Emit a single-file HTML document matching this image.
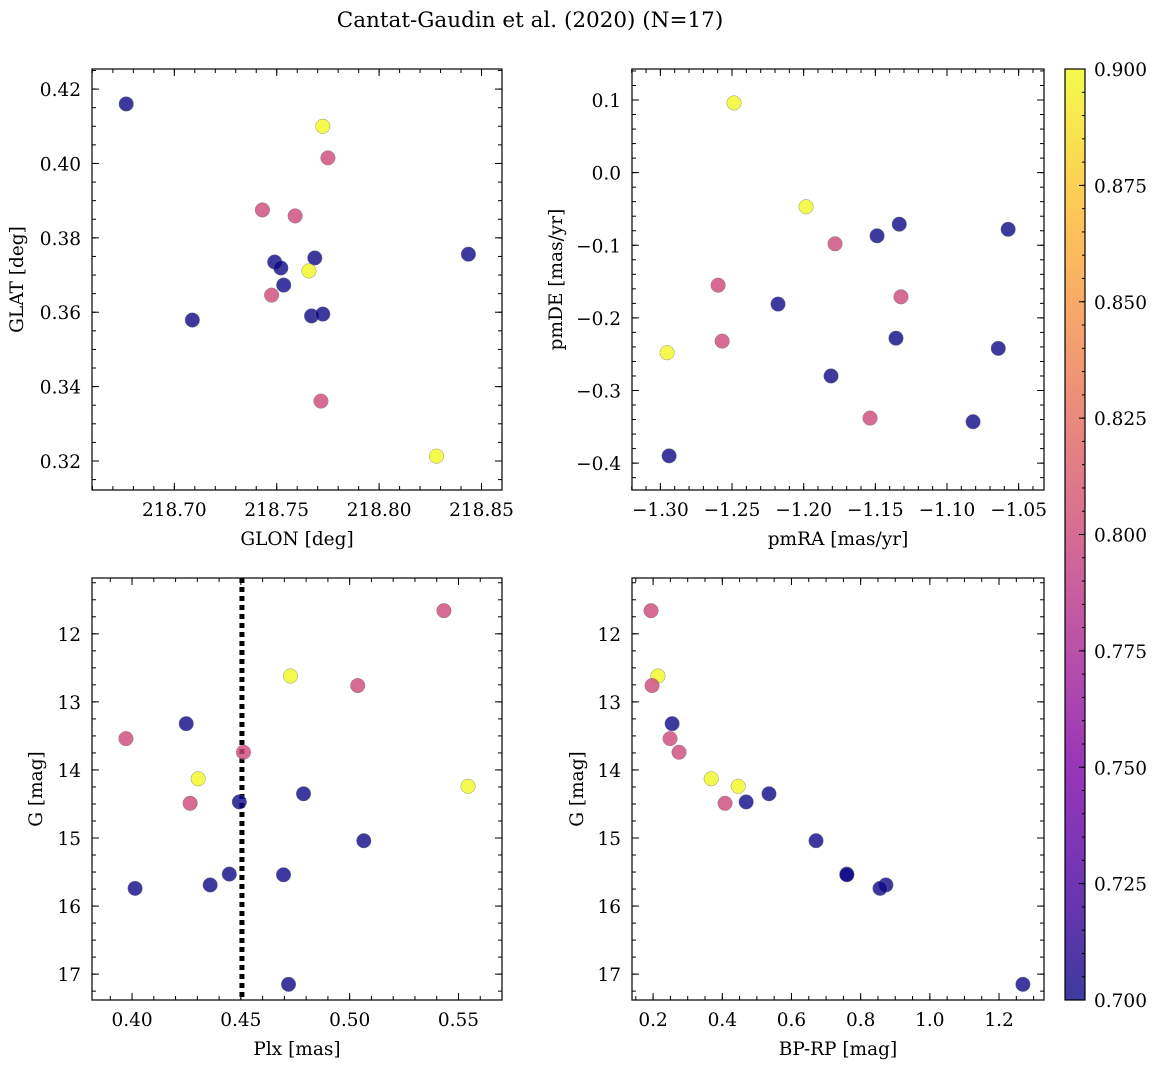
<!DOCTYPE html>
<html><head><meta charset="utf-8">
<style>
html,body{margin:0;padding:0;background:#fff;}
svg{display:block;font-family:"DejaVu Serif","Liberation Serif",serif;}
</style></head>
<body>
<svg id="chart" width="1161" height="1068" viewBox="0 0 1161 1068" xmlns="http://www.w3.org/2000/svg">
<text x="530" y="27" font-size="21.5" text-anchor="middle">Cantat-Gaudin et al. (2020) (N=17)</text>
</svg>
<script>
// ---- data ----
const probClass = [0.7,0.9,0.8,0.8,0.8,0.7,0.7,0.7,0.9,0.7,0.8,0.7,0.7,0.7,0.8,0.9,0.7];
const glon = [218.6765,218.7725,218.775,218.743,218.759,218.749,218.752,218.7686,218.7657,218.7534,218.7475,218.7088,218.767,218.7725,218.7716,218.828,218.8436];
const glat = [0.416,0.410,0.4015,0.3875,0.3859,0.3735,0.3719,0.3746,0.3711,0.3673,0.3646,0.3579,0.3590,0.3595,0.3361,0.3213,0.3756];
const pmraP = [-1.2486,-1.1983,-1.1781,-1.1488,-1.1333,-1.0573,-1.2597,-1.2179,-1.1321,-1.2569,-1.1356,-1.0642,-1.1809,-1.1537,-1.0818,-1.2953,-1.2939];
const pmdeP = [0.096,-0.047,-0.098,-0.087,-0.071,-0.078,-0.155,-0.181,-0.171,-0.232,-0.228,-0.242,-0.280,-0.338,-0.343,-0.248,-0.390];
const probP = [0.9,0.9,0.8,0.7,0.7,0.7,0.8,0.7,0.8,0.8,0.7,0.7,0.7,0.8,0.7,0.9,0.7];
const plx = [0.5433,0.4728,0.5037,0.4249,0.3972,0.4512,0.4304,0.5544,0.4788,0.4267,0.4493,0.5065,0.4447,0.4696,0.4359,0.4014,0.4719];
const gmag = [11.66,12.62,12.76,13.32,13.54,13.74,14.13,14.24,14.35,14.49,14.47,15.04,15.53,15.54,15.69,15.74,17.15];
const bprp = [0.194,0.214,0.197,0.255,0.249,0.275,0.368,0.446,0.535,0.408,0.469,0.671,0.760,0.760,0.873,0.856,1.269];
const probG = [0.8,0.9,0.8,0.7,0.8,0.8,0.9,0.9,0.7,0.8,0.7,0.7,0.7,0.7,0.7,0.7,0.7];
const plxCut = 0.4505;
const cbTicks = [0.700,0.725,0.750,0.775,0.800,0.825,0.850,0.875,0.900];

const svg = document.getElementById('chart');
const NS = 'http://www.w3.org/2000/svg';
function mk(tag, attrs, parent){const e=document.createElementNS(NS,tag);for(const k in attrs)e.setAttribute(k,attrs[k]);(parent||svg).appendChild(e);return e;}

const stops=['#0d0887','#4c02a1','#7e03a8','#a92395','#cc4778','#e56b5d','#f89540','#fdc527','#f0f921'];
function hex(h){return [1,3,5].map(i=>parseInt(h.substr(i,2),16));}
function plasma(t){t=Math.max(0,Math.min(1,t));const p=t*8,i=Math.min(7,Math.floor(p)),f=p-i;const a=hex(stops[i]),b=hex(stops[i+1]);return 'rgb('+a.map((v,k)=>Math.round(v+(b[k]-v)*f)).join(',')+')';}
function cmap(v){return plasma((v-0.7)/0.2);}

function fmtMinus(s){return s.replace('-','\u2212');}
const FS=18.5;

function panel(o){
  const g=mk('g',{});
  
  
  const sx=v=>o.x0+(v-o.xmin)/(o.xmax-o.xmin)*(o.x1-o.x0);
  const sy=o.invert?(v=>o.y0+(v-o.ymin)/(o.ymax-o.ymin)*(o.y1-o.y0)):(v=>o.y1-(v-o.ymin)/(o.ymax-o.ymin)*(o.y1-o.y0));
  const tg=mk('g',{stroke:'#000','stroke-width':1},g);
  function xt(v,len){const X=sx(v);if(X<o.x0-0.5||X>o.x1+0.5)return;mk('line',{x1:X,x2:X,y1:o.y1,y2:o.y1-len},tg);mk('line',{x1:X,x2:X,y1:o.y0,y2:o.y0+len},tg);}
  function yt(v,len){const Y=sy(v);if(Y<o.y0-0.5||Y>o.y1+0.5)return;mk('line',{x1:o.x0,x2:o.x0+len,y1:Y,y2:Y},tg);mk('line',{x1:o.x1,x2:o.x1-len,y1:Y,y2:Y},tg);}
  o.xticks.forEach(v=>{xt(v,7);const t=mk('text',{x:sx(v),y:o.y1+26,'font-size':FS,'text-anchor':'middle'},g);t.textContent=fmtMinus(v.toFixed(o.xdec));});
  o.yticks.forEach(v=>{yt(v,7);const t=mk('text',{x:o.x0-11,y:sy(v)+7,'font-size':FS,'text-anchor':'end'},g);t.textContent=fmtMinus(v.toFixed(o.ydec));});
  const xs=o.xticks[1]-o.xticks[0], ys=o.yticks[1]-o.yticks[0];
  for(let v=o.xticks[0]-xs;v<o.xmax+xs;v+=xs/o.xmin_n){xt(v,4);}
  for(let v=o.yticks[0]-ys;v<Math.max(o.ymax,o.ymin)+ys;v+=ys/o.ymin_n){yt(v,4);}
  if(o.vline!==undefined){const l=mk('line',{x1:sx(o.vline),x2:sx(o.vline),y1:o.y0,y2:o.y1,stroke:'#000','stroke-width':5,'stroke-dasharray':'5 4'},g);}
  o.xs.forEach((v,i)=>{
    const c=mk('circle',{cx:sx(v),cy:sy(o.ys[i]),r:7.3,fill:cmap(o.c[i]),'fill-opacity':0.8,stroke:'#777','stroke-width':0.4},g);
    
    
  });
  const fr=mk('rect',{x:o.x0,y:o.y0,width:o.x1-o.x0,height:o.y1-o.y0,fill:'none',stroke:'#000','stroke-width':1.2},g);
  
  const xl=mk('text',{x:(o.x0+o.x1)/2,y:o.y1+55,'font-size':FS,'text-anchor':'middle'},g);xl.textContent=o.xlabel;
  
  const yl=mk('text',{x:0,y:0,'font-size':FS,'text-anchor':'middle',transform:'translate('+o.ylx+','+((o.y0+o.y1)/2)+') rotate(-90)'},g);yl.textContent=o.ylabel;
  
}

panel({name:'glon-glat-panel',x0:92,x1:502,y0:69,y1:490,xmin:218.6598,xmax:218.860,ymin:0.3122,ymax:0.4254,
  xticks:[218.70,218.75,218.80,218.85],yticks:[0.32,0.34,0.36,0.38,0.40,0.42],xdec:2,ydec:2,xmin_n:5,ymin_n:4,
  xs:glon,ys:glat,c:probClass,xlabel:'GLON [deg]',ylabel:'GLAT [deg]',ylx:23});
panel({name:'pm-panel',x0:632,x1:1044,y0:69,y1:490,xmin:-1.3198,xmax:-1.0323,ymin:-0.437,ymax:0.1427,
  xticks:[-1.30,-1.25,-1.20,-1.15,-1.10,-1.05],yticks:[-0.4,-0.3,-0.2,-0.1,0.0,0.1],xdec:2,ydec:1,xmin_n:5,ymin_n:5,
  xs:pmraP,ys:pmdeP,c:probP,xlabel:'pmRA [mas/yr]',ylabel:'pmDE [mas/yr]',ylx:562});
panel({name:'plx-g-panel',x0:92,x1:502,y0:578,y1:1000,xmin:0.3816,xmax:0.570,ymin:11.18,ymax:17.38,invert:true,
  xticks:[0.40,0.45,0.50,0.55],yticks:[12,13,14,15,16,17],xdec:2,ydec:0,xmin_n:5,ymin_n:4,vline:plxCut,
  xs:plx,ys:gmag,c:probG,xlabel:'Plx [mas]',ylabel:'G [mag]',ylx:42});
panel({name:'cmd-panel',x0:632,x1:1044,y0:578,y1:1000,xmin:0.139,xmax:1.330,ymin:11.18,ymax:17.38,invert:true,
  xticks:[0.2,0.4,0.6,0.8,1.0,1.2],yticks:[12,13,14,15,16,17],xdec:1,ydec:0,xmin_n:4,ymin_n:4,
  xs:bprp,ys:gmag,c:probG,xlabel:'BP-RP [mag]',ylabel:'G [mag]',ylx:583});

const cb=mk('g',{});


const cx0=1065,cx1=1085,cy0=69,cy1=1000;
const defs=mk('defs',{},cb);
const lg=mk('linearGradient',{id:'cbg',x1:0,y1:1,x2:0,y2:0},defs);
for(let i=0;i<=20;i++){mk('stop',{offset:i/20,'stop-color':plasma(i/20),'stop-opacity':0.8},lg);}
mk('rect',{x:cx0,y:cy0,width:cx1-cx0,height:cy1-cy0,fill:'url(#cbg)',stroke:'#000','stroke-width':1.2},cb);
const cby=v=>cy1-(v-0.7)/0.2*(cy1-cy0);
cbTicks.forEach(v=>{const Y=cby(v);mk('line',{x1:cx1,x2:cx1-6,y1:Y,y2:Y,stroke:'#000'},cb);
  const t=mk('text',{x:cx1+9,y:Y+7,'font-size':FS},cb);t.textContent=v.toFixed(3);});
for(let v=0.7;v<0.9;v+=0.005){const Y=cby(v);mk('line',{x1:cx1,x2:cx1-3,y1:Y,y2:Y,stroke:'#000'},cb);}
</script>
</body></html>
